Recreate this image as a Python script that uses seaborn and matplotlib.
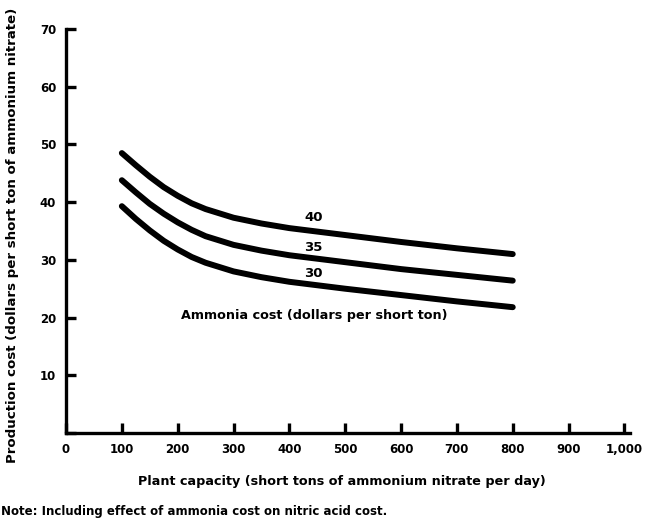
import matplotlib
matplotlib.use("Agg")
import matplotlib.pyplot as plt
import numpy as np
import pandas as pd
import seaborn as sns

# Plant capacity (short tons of ammonium nitrate per day)
capacity = [100, 125, 150, 175, 200, 225, 250, 300, 350, 400, 500, 600, 700, 800]

# Production cost (dollars per short ton) for each ammonia cost level
cost_40 = [48.5, 46.4, 44.4, 42.6, 41.1, 39.8, 38.8, 37.3, 36.3, 35.5, 34.3, 33.1, 32.0, 31.0]
cost_35 = [43.8, 41.7, 39.7, 38.0, 36.5, 35.2, 34.1, 32.6, 31.6, 30.8, 29.6, 28.4, 27.4, 26.4]
cost_30 = [39.3, 37.1, 35.1, 33.3, 31.8, 30.5, 29.5, 28.0, 27.0, 26.2, 25.0, 23.9, 22.8, 21.8]

ammonia_costs = ["40", "35", "30"]
x_ticks = [0, 100, 200, 300, 400, 500, 600, 700, 800, 900, 1000]
x_tick_labels = ["0", "100", "200", "300", "400", "500", "600", "700", "800", "900", "1,000"]
y_ticks = [0, 10, 20, 30, 40, 50, 60, 70]
y_tick_labels = ["", "10", "20", "30", "40", "50", "60", "70"]

df = pd.DataFrame({
    "capacity": capacity * 3,
    "cost": cost_40 + cost_35 + cost_30,
    "ammonia": sum([[a] * len(capacity) for a in ammonia_costs], []),
})

sns.set_theme(style="ticks")
plt.rcParams["font.family"] = ["DejaVu Sans"]
plt.rcParams["text.color"] = "black"
plt.rcParams["xtick.color"] = "black"
plt.rcParams["ytick.color"] = "black"

fig = plt.figure(figsize=(6.56, 5.26), dpi=100)
ax = fig.add_axes([66 / 656, 1 - 433 / 526, 564 / 656, 404 / 526])

sns.lineplot(data=df, x="capacity", y="cost", hue="ammonia",
             palette=["black"] * 3, linewidth=4.3, legend=False, ax=ax,
             solid_capstyle="round", solid_joinstyle="round")

ax.set_xlim(0, 1010)
ax.set_ylim(0, 70)
ax.set_xticks(x_ticks)
ax.set_xticklabels(x_tick_labels, fontsize=8.5, fontweight="heavy")
ax.set_yticks(y_ticks)
ax.set_yticklabels(y_tick_labels, fontsize=8.5, fontweight="heavy")
ax.tick_params(axis="both", direction="in", length=7, width=2.4, color="black",
               pad=7, bottom=True, left=True, labelcolor="black")

for side in ["top", "right"]:
    ax.spines[side].set_visible(False)
for side in ["left", "bottom"]:
    ax.spines[side].set_color("black")
    ax.spines[side].set_linewidth(2.4)

ax.set_xlabel("")
ax.set_ylabel("")

# Ammonia cost labels on the curves
label_y = [37.4, 32.2, 27.7]
for lab, yy in zip(ammonia_costs, label_y):
    ax.text(443, yy, lab, fontsize=9.5, fontweight="heavy", ha="center", va="center")

ax.text(444, 20.4, "Ammonia cost (dollars per short ton)", fontsize=9.2,
        fontweight="heavy", ha="center", va="center")

fig.text(342 / 656, 1 - 482 / 526,
         "Plant capacity (short tons of ammonium nitrate per day)",
         fontsize=9.2, fontweight="heavy", ha="center", va="center")
fig.text(1 / 656, 1 - 511 / 526,
         "Note: Including effect of ammonia cost on nitric acid cost.",
         fontsize=8.5, fontweight="heavy", ha="left", va="center")
fig.text(13 / 656, 1 - 235 / 526,
         "Production cost (dollars per short ton of ammonium nitrate)",
         fontsize=9.6, fontweight="heavy", ha="center", va="center", rotation=90)

fig.savefig("out.png", dpi=100, facecolor="white")
